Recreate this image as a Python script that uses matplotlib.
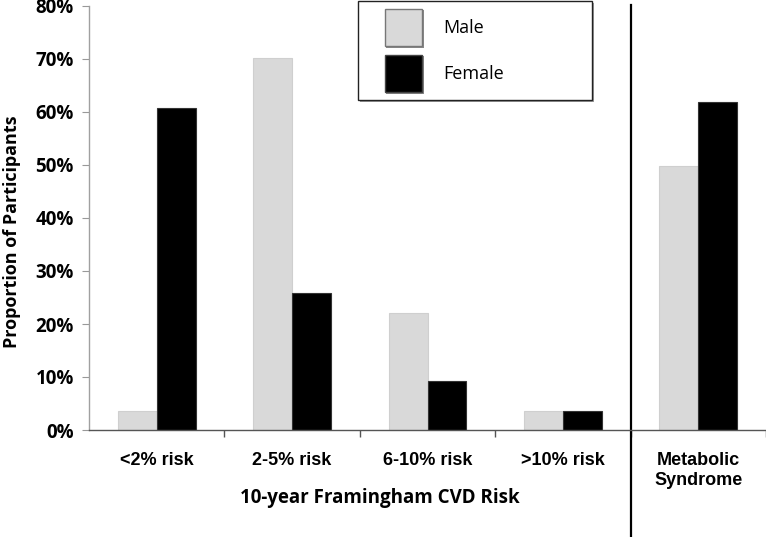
import matplotlib
matplotlib.use("Agg")
import matplotlib.pyplot as plt
from matplotlib.patches import Rectangle
from matplotlib.ticker import FuncFormatter, FixedLocator

categories = ["<2% risk", "2-5% risk", "6-10% risk", ">10% risk", "Metabolic\nSyndrome"]
series_names = ["Male", "Female"]
male = [3.6, 70.2, 22.1, 3.5, 49.8]
female = [60.8, 25.9, 9.3, 3.5, 61.9]
y_ticks = [0, 10, 20, 30, 40, 50, 60, 70, 80]

W, H = 766, 537
fig = plt.figure(figsize=(W / 100, H / 100), dpi=100)
ax = fig.add_axes([89 / W, (H - 430) / H, (W - 89) / W, (430 - 6) / H])

x = list(range(len(categories)))
bw = 0.288
ax.bar([i - bw / 2 for i in x], male, width=bw, color="#d9d9d9", edgecolor="#cfcfcf", linewidth=0.8)
ax.bar([i + bw / 2 for i in x], female, width=bw, color="#000000", edgecolor="#333333", linewidth=0.8)

ax.set_xlim(-0.5, len(categories) - 0.5)
ax.set_ylim(0, 80)
ax.set_yticks(y_ticks)
ax.yaxis.set_major_formatter(FuncFormatter(lambda v, p: f"{v:.0f}%"))
for lab in ax.get_yticklabels():
    lab.set_fontfamily("Open Sans")
    lab.set_fontweight("bold")
    lab.set_fontsize(13.5)
ax.tick_params(axis="y", direction="out", length=5, width=0.8, color="#999999", pad=6)

ax.set_xticks(x)
ax.set_xticklabels(categories, fontfamily="Liberation Sans", fontweight="bold", fontsize=13,
                   linespacing=1.25)
ax.tick_params(axis="x", which="major", length=0, pad=16)
ax.xaxis.set_minor_locator(FixedLocator([i + 0.5 for i in x]))
ax.tick_params(axis="x", which="minor", direction="out", length=5, width=1, color="#555555")

for s in ["top", "right"]:
    ax.spines[s].set_visible(False)
ax.spines["left"].set_color("#a0a0a0")
ax.spines["left"].set_linewidth(1)
ax.spines["bottom"].set_color("#555555")
ax.spines["bottom"].set_linewidth(1)

# separator line between risk groups and metabolic syndrome
ax.plot([3.5, 3.5], [-0.253, 1.002], color="black", linewidth=1.6,
        transform=ax.get_xaxis_transform(), clip_on=False)

ax.set_ylabel("Proportion of Participants", fontfamily="Open Sans", fontweight="bold", fontsize=13)
ax.yaxis.set_label_coords(-(89 - 21) / (W - 89), (430 - 232) / 424)

fig.text(380 / W, 1 - 498 / H, "10-year Framingham CVD Risk", ha="center", va="center",
         fontfamily="Open Sans", fontweight="bold", fontsize=13.5)

# legend drawn in figure pixel coordinates
def px_rect(x0, y0, x1, y1, **kw):
    r = Rectangle((x0 / W, 1 - y1 / H), (x1 - x0) / W, (y1 - y0) / H,
                  transform=fig.transFigure, **kw)
    fig.patches.append(r)

px_rect(360, 3, 594, 102, facecolor="#9a9a9a", edgecolor="none", zorder=5)
px_rect(358, 1, 592, 100, facecolor="white", edgecolor="#222222", linewidth=1, zorder=6)
colors = ["#d9d9d9", "#000000"]
edges = ["#777777", "#444444"]
for k, name in enumerate(series_names):
    y0 = 9 + k * 46
    px_rect(386, y0 + 1, 424, y0 + 39, facecolor="#888888", edgecolor="none", zorder=6.5)
    px_rect(385, y0, 422, y0 + 37, facecolor=colors[k], edgecolor=edges[k], linewidth=1, zorder=7)
    fig.text(443 / W, 1 - (y0 + 19) / H, name, ha="left", va="center",
             fontfamily="Open Sans", fontsize=13, zorder=8)

fig.savefig("out.png", dpi=100)
